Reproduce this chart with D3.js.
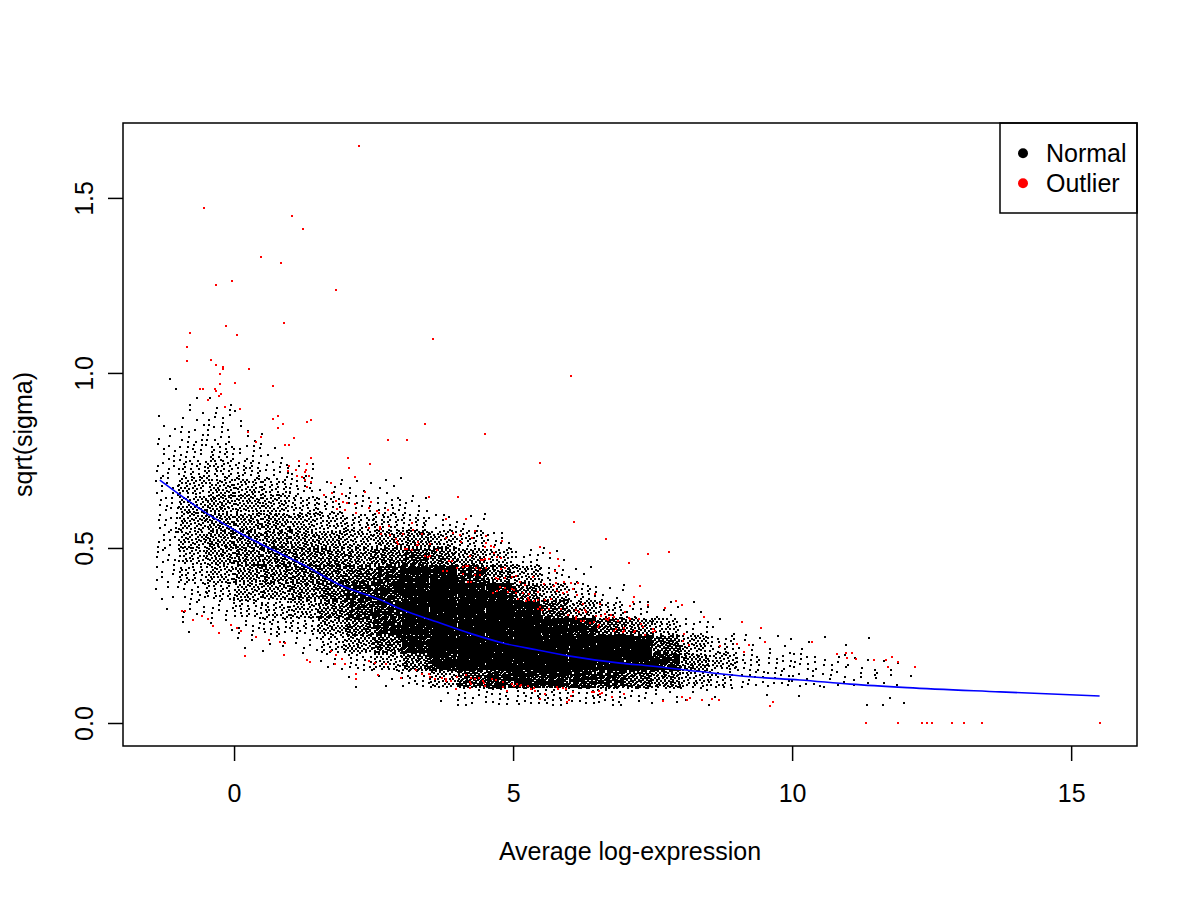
<!DOCTYPE html>
<html><head><meta charset="utf-8">
<script src="https://cdn.jsdelivr.net/npm/d3@7"></script>
<style>
body{margin:0;background:#fff}
svg{display:block}
text{font-family:"Liberation Sans",Arial,Helvetica,sans-serif;fill:#000}
</style>
</head><body>
<svg id="chart" width="1200" height="900"></svg>
<script>
// ---------------- data ----------------
const xTicks = [0, 5, 10, 15];
const yTicks = [0, 0.5, 1.0, 1.5];
const yTickLabels = ["0.0", "0.5", "1.0", "1.5"];
const xLabel = "Average log-expression";
const yLabel = "sqrt(sigma)";
const legendLabels = ["Normal", "Outlier"];
const legendColors = ["#000000", "#ff0000"];

// "Normal" genes, binned: x bin edges, y bin edges, counts per cell (rows = x bins, cols = y bins low->high)
const xBinEdges = [-1.4,-1.0,-0.5,0,0.5,1,1.5,2,2.5,3,3.5,4,4.5,5,5.5,6,6.5,7,7.5,8,8.5,9,9.5,10,10.5,11,11.5,12,12.15];
const yBinEdges = [0,0.05,0.1,0.15,0.2,0.25,0.3,0.35,0.4,0.45,0.5,0.55,0.6,0.65,0.7,0.75,0.8,0.85,0.9,0.95,1.0];
const normalCounts = [
  [0,0,0,0,0,0,1,4,7,8,10,10,10,10,8,7,4,1,0,2],
  [0,0,0,0,0,2,8,14,27,37,45,46,45,37,24,13,10,5,2,0],
  [0,0,0,0,0,3,10,26,45,59,67,67,59,43,29,21,11,8,3,0],
  [0,0,0,0,3,10,24,48,64,74,72,62,51,40,24,10,5,2,0,0],
  [0,0,0,0,5,18,32,58,78,83,74,62,46,29,13,3,0,0,0,0],
  [0,0,0,0,8,22,45,74,88,83,66,50,30,16,5,0,0,0,0,0],
  [0,0,0,6,28,55,80,98,94,83,62,37,19,6,0,0,0,0,0,0],
  [0,0,2,16,58,90,118,130,100,74,46,29,11,5,0,0,0,0,0,0],
  [0,0,4,40,95,140,140,145,125,88,59,29,14,5,0,0,0,0,0,0],
  [0,0,16,88,170,200,210,200,170,115,66,24,8,0,0,0,0,0,0,0],
  [0,2,45,166,240,240,240,240,190,88,45,11,0,0,0,0,0,0,0,0],
  [0,10,110,220,240,240,240,200,126,62,29,6,0,0,0,0,0,0,0,0],
  [0,14,140,240,240,240,240,172,77,37,10,0,0,0,0,0,0,0,0,0],
  [0,18,150,240,240,240,200,91,45,11,0,0,0,0,0,0,0,0,0,0],
  [0,18,150,240,240,200,102,45,14,5,0,0,0,0,0,0,0,0,0,0],
  [0,14,140,240,240,149,54,18,5,0,0,0,0,0,0,0,0,0,0,0],
  [0,14,130,240,240,99,27,6,0,0,0,0,0,0,0,0,0,0,0,0],
  [0,10,100,200,200,69,11,0,0,0,0,0,0,0,0,0,0,0,0,0],
  [0,6,75,149,102,37,5,0,0,0,0,0,0,0,0,0,0,0,0,0],
  [0,3,37,69,46,11,2,0,0,0,0,0,0,0,0,0,0,0,0,0],
  [0,2,24,40,19,3,0,0,0,0,0,0,0,0,0,0,0,0,0,0],
  [0,0,12,17,5,1,0,0,0,0,0,0,0,0,0,0,0,0,0,0],
  [0,1,11,12,4,0,0,0,0,0,0,0,0,0,0,0,0,0,0,0],
  [0,1,10,12,2,0,0,0,0,0,0,0,0,0,0,0,0,0,0,0],
  [0,0,8,8,2,0,0,0,0,0,0,0,0,0,0,0,0,0,0,0],
  [0,1,6,5,1,0,0,0,0,0,0,0,0,0,0,0,0,0,0,0],
  [0,2,5,3,0,0,0,0,0,0,0,0,0,0,0,0,0,0,0,0],
  [0,1,1,0,0,0,0,0,0,0,0,0,0,0,0,0,0,0,0,0]
];

// Outlier genes (individually read)
const outlierXY = [
[2.24,1.648],[-0.53,1.471],[1.04,1.448],[1.24,1.411],[0.49,1.331],[0.85,1.314],[-0.32,1.252],[-0.03,1.262],[1.83,1.236],[0.90,1.144],[-0.14,1.133],[-0.79,1.114],[0.06,1.107],[-0.85,1.073],[-0.85,1.034],[-0.42,1.036],[-0.32,1.022],[-0.19,1.016],[-0.19,1.012],[0.27,1.011],[-0.26,0.996],[-0.25,0.969],[0.02,0.971],[0.69,0.962],[-0.61,0.955],[-0.55,0.955],[-0.34,0.953],[-0.32,0.947],[-0.27,0.935],[-0.23,0.939],[-0.46,0.922],[-0.16,0.904],[0.11,0.898],[0.78,0.876],[0.70,0.868],[0.88,0.853],[0.79,0.842],[1.31,0.859],[1.37,0.865],[0.25,0.831],[0.49,0.818],[0.39,0.803],[1.08,0.813],[2.75,0.809],[3.10,0.809],[0.92,0.794],[0.99,0.793],[1.16,0.749],[1.37,0.756],[1.31,0.741],[0.99,0.733],[0.97,0.721],[1.11,0.723],[1.27,0.718],[1.29,0.723],[1.13,0.707],[1.21,0.702],[1.34,0.706],[1.28,0.694],[1.37,0.688],[1.30,0.673],[2.05,0.756],[2.44,0.739],[2.06,0.729],[2.17,0.704],[1.74,0.686],[1.61,0.651],[1.75,0.658],[1.94,0.654],[2.34,0.659],[1.83,0.635],[1.96,0.631],[2.03,0.629],[2.17,0.627],[2.46,0.631],[1.98,0.609],[1.84,0.611],[2.42,0.613],[2.56,0.605],[2.59,0.599],[2.76,0.609],[2.19,0.599],[3.18,0.571],[2.41,0.556],[2.61,0.561],[2.62,0.553],[2.64,0.541],[2.78,0.562],[2.79,0.536],[3.02,0.539],[3.21,0.551],[3.37,0.539],[2.90,0.526],[2.92,0.517],[2.93,0.511],[3.29,0.518],[3.27,0.508],[3.30,0.508],[3.06,0.498],[3.10,0.498],[3.18,0.495],
[-0.93,0.320],[-0.88,0.320],[-0.74,0.293],[-0.58,0.306],[-0.46,0.296],[-0.37,0.278],[-0.27,0.258],[-0.05,0.281],[0.05,0.271],[0.13,0.263],[0.39,0.245],[0.63,0.238],[0.83,0.232],[0.91,0.228],[0.20,0.191],[0.90,0.194],[1.30,0.180],[1.36,0.174],[1.74,0.207],[1.83,0.194],[1.94,0.184],[1.80,0.169],[1.98,0.168],[2.19,0.139],[2.19,0.126],[2.41,0.177],[2.53,0.171],[2.72,0.168],[2.58,0.136],[3.00,0.128],[3.26,0.151],[3.36,0.139],
[3.57,1.096],[6.04,0.991],[3.43,0.855],[4.50,0.825],[5.49,0.744],[3.50,0.645],[4.02,0.645],[3.80,0.582],[4.16,0.584],[6.10,0.573],[3.92,0.542],[4.04,0.536],[3.79,0.529],[4.26,0.529],[4.31,0.548],[4.52,0.535],[4.81,0.521],[6.66,0.527],[3.51,0.511],[4.06,0.516],[3.63,0.495],[4.52,0.513],[4.50,0.504],[4.61,0.506],[4.65,0.504],[5.48,0.502],[3.43,0.478],[3.48,0.475],[3.52,0.477],[4.66,0.486],[4.50,0.468],[4.56,0.468],[4.72,0.473],[4.79,0.471],[4.23,0.476],[4.43,0.466],[4.46,0.465],[5.67,0.485],[5.81,0.469],[3.86,0.462],[3.90,0.462],[3.74,0.435],[3.82,0.434],[4.00,0.443],[4.11,0.447],[4.16,0.449],[4.19,0.449],[4.33,0.443],[4.41,0.438],[4.52,0.442],[4.79,0.439],[4.86,0.442],[5.83,0.448],[5.75,0.434],[7.42,0.482],[7.79,0.488],[7.07,0.458],[4.11,0.425],[4.31,0.423],[4.40,0.422],[5.05,0.421],[4.98,0.417],[4.70,0.415],[4.73,0.411],[4.86,0.415],[5.35,0.417],[4.19,0.402],[4.24,0.402],[5.12,0.402],[5.22,0.393],[5.56,0.396],[5.77,0.401],[5.74,0.392],[5.91,0.404],[6.04,0.401],[6.17,0.400],[4.64,0.371],[4.71,0.378],[4.77,0.388],[4.86,0.385],[4.90,0.373],[4.98,0.383],[5.01,0.381],[5.05,0.371],[5.18,0.371],[5.28,0.369],[5.45,0.373],[5.78,0.377],[5.90,0.371],[5.96,0.375],[6.07,0.383],[6.15,0.366],[6.47,0.369],[7.28,0.391],[5.08,0.354],[5.23,0.348],[5.29,0.351],[5.38,0.349],[5.44,0.352],[5.26,0.358],[5.58,0.352],[5.68,0.355],[6.26,0.339],[6.55,0.339],[7.17,0.359],[7.14,0.345],[7.10,0.335],[7.42,0.337],[7.92,0.349],[8.02,0.337],[7.73,0.328],[5.48,0.331],[5.52,0.324],[5.45,0.327],[5.65,0.325],[5.85,0.326],[6.29,0.324],[6.12,0.323],[7.01,0.316],[8.42,0.304],[6.18,0.316],[6.31,0.316],[5.99,0.309],[6.49,0.307],[6.58,0.306],[6.65,0.311],[6.72,0.301],[6.75,0.308],[6.80,0.304],[7.07,0.301],[7.10,0.296],[6.13,0.296],[6.12,0.302],[6.21,0.292],[6.27,0.291],[6.37,0.287],[6.45,0.289],[6.52,0.275],[6.54,0.281],[6.67,0.297],[6.70,0.294],[6.88,0.291],[7.26,0.298],[7.29,0.282],[7.32,0.273],[6.99,0.272],[6.99,0.263],[6.97,0.260],[7.16,0.260],[7.19,0.262],[7.51,0.268],[7.54,0.262],[7.50,0.259],[7.37,0.251],[6.80,0.262],[6.85,0.269],[8.06,0.253],[8.05,0.234],[8.15,0.222],[8.70,0.220],
[3.49,0.141],[3.51,0.132],[3.60,0.126],[3.73,0.128],[3.79,0.125],[3.80,0.119],[3.89,0.121],[3.97,0.098],[4.00,0.131],[4.16,0.137],[4.25,0.129],[4.22,0.117],[4.25,0.111],[4.23,0.101],[4.31,0.126],[4.39,0.128],[4.46,0.119],[4.47,0.114],[4.50,0.106],[4.62,0.127],[4.69,0.123],[4.82,0.117],[4.82,0.104],[4.89,0.092],[4.98,0.111],[5.02,0.105],[5.07,0.111],[5.12,0.107],[5.15,0.109],[5.27,0.107],[5.32,0.097],[5.37,0.099],[5.40,0.091],[5.48,0.069],[5.57,0.082],[5.78,0.102],[5.81,0.098],[5.89,0.100],[5.95,0.098],[5.96,0.059],[6.01,0.066],[6.04,0.076],[6.08,0.089],[6.41,0.089],[6.45,0.089],[6.54,0.091],[6.56,0.082],[6.59,0.087],[6.77,0.074],[6.98,0.082],[7.69,0.063],[8.02,0.073],[8.12,0.067],[8.17,0.071],[8.38,0.065],[8.57,0.069],[8.69,0.066],
[9.11,0.288],[9.45,0.271],[9.01,0.225],[9.13,0.202],[9.22,0.222],[9.52,0.231],[10.35,0.231],[10.81,0.196],[10.96,0.200],[11.07,0.199],[10.99,0.185],[11.14,0.182],[11.46,0.179],[11.68,0.179],[11.79,0.188],[11.89,0.173],[11.71,0.161],[12.21,0.159],[9.66,0.059],[9.61,0.049],
[11.33,0],[11.89,0],[12.32,0],[12.42,0],[12.51,0],[12.87,0],[13.08,0],[13.40,0],[15.51,0]
];

// Fitted trend (blue line)
const trendX = [-1.33,-0.49,0.11,0.70,1.30,1.90,2.62,3.03,3.63,4.23,4.83,5.42,6.02,6.92,7.46,8.35,9.25,10.14,11.04,12.06,13.73,15.51];
const trendY = [0.694,0.599,0.542,0.494,0.447,0.394,0.352,0.323,0.289,0.256,0.228,0.209,0.191,0.171,0.163,0.147,0.132,0.123,0.111,0.101,0.089,0.077];

// ---------------- drawing ----------------
const svg = d3.select("#chart");
const L = 123, R = 1137, T = 123, B = 746;
const FS = 25;

const x = d3.scaleLinear().domain([-1.99, 16.18]).range([L, R]);
const y = d3.scaleLinear().domain([-0.0657, 1.714]).range([B, T]);

// spread each bin's points evenly (low-discrepancy layout) inside its cell
const normalPts = [];
let g = 0;
normalCounts.forEach((row, i) => {
  const x0 = xBinEdges[i], x1 = xBinEdges[i + 1];
  row.forEach((n, j) => {
    const y0 = yBinEdges[j], y1 = yBinEdges[j + 1];
    for (let k = 0; k < n; k++, g++) {
      const u = (0.5 + g * 0.7548776662466927) % 1;
      const v = (0.5 + g * 0.5698402909980532) % 1;
      normalPts.push([x0 + u * (x1 - x0), y0 + v * (y1 - y0)]);
    }
  });
});

// 2x2 pixel dots snapped to the pixel grid
const ps = 2;
const px = v => Math.round(x(v)) - 1;
const py = v => Math.round(y(v)) - 1;
svg.append("g").attr("shape-rendering", "crispEdges")
  .selectAll("rect").data(normalPts).join("rect")
  .attr("x", d => px(d[0])).attr("y", d => py(d[1]))
  .attr("width", ps).attr("height", ps).attr("fill", legendColors[0]);

svg.append("g").attr("shape-rendering", "crispEdges")
  .selectAll("rect").data(outlierXY).join("rect")
  .attr("x", d => px(d[0])).attr("y", d => py(d[1]))
  .attr("width", ps).attr("height", ps).attr("fill", legendColors[1]);

// trend line
const trend = trendX.map((v, i) => [v, trendY[i]]);
svg.append("path").datum(trend)
  .attr("d", d3.line().x(d => x(d[0])).y(d => y(d[1])).curve(d3.curveMonotoneX))
  .attr("fill", "none").attr("stroke", "#0000ff").attr("stroke-width", 1.6);

// axes
const xAxis = svg.append("g").attr("transform", `translate(0,${B})`)
  .call(d3.axisBottom(x).tickValues(xTicks).tickFormat(d3.format("d")).tickSize(15).tickPadding(23));
xAxis.select(".domain").remove();
xAxis.selectAll("line").attr("stroke", "#000").attr("stroke-width", 1.5);
xAxis.selectAll("text").attr("font-size", FS).attr("font-family", null);

const yAxis = svg.append("g").attr("transform", `translate(${L},0)`)
  .call(d3.axisLeft(y).tickValues(yTicks).tickFormat((d, i) => yTickLabels[i]).tickSize(15));
yAxis.select(".domain").remove();
yAxis.selectAll("line").attr("stroke", "#000").attr("stroke-width", 1.5);
yAxis.selectAll("text")
  .attr("font-size", FS).attr("font-family", null)
  .attr("x", 0).attr("y", -30).attr("dy", null)
  .attr("text-anchor", "middle").attr("transform", "rotate(-90)");

// axis titles
svg.append("text").attr("x", (L + R) / 2).attr("y", 860)
  .attr("text-anchor", "middle").attr("font-size", FS).text(xLabel);
svg.append("text").attr("transform", `translate(32,${(T + B) / 2}) rotate(-90)`)
  .attr("text-anchor", "middle").attr("font-size", FS).text(yLabel);

// legend
const lg = svg.append("g");
lg.append("rect").attr("x", 1000).attr("y", T).attr("width", R - 1000).attr("height", 90)
  .attr("fill", "#fff").attr("stroke", "#000").attr("stroke-width", 1.5);
legendLabels.forEach((lab, i) => {
  lg.append("circle").attr("cx", 1023).attr("cy", 153.3 + i * 30).attr("r", 5)
    .attr("fill", legendColors[i]);
  lg.append("text").attr("x", 1046).attr("y", 161.5 + i * 30)
    .attr("font-size", FS).text(lab);
});

// frame
svg.append("rect").attr("x", L).attr("y", T).attr("width", R - L).attr("height", B - T)
  .attr("fill", "none").attr("stroke", "#000").attr("stroke-width", 1.5);
</script>
</body></html>
